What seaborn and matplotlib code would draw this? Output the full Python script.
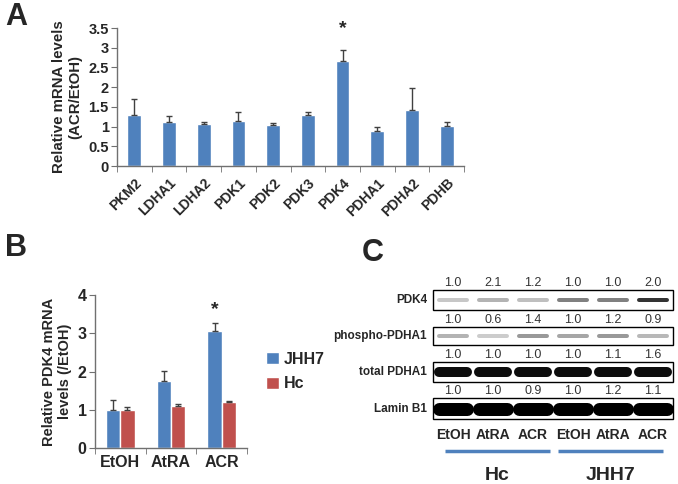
import numpy as np
import pandas as pd
import seaborn as sns
import matplotlib.pyplot as plt

# panel A data
genes = ["PKM2", "LDHA1", "LDHA2", "PDK1", "PDK2", "PDK3", "PDK4", "PDHA1", "PDHA2", "PDHB"]
ratio = [1.29, 1.11, 1.06, 1.15, 1.04, 1.29, 2.67, 0.89, 1.42, 1.01]
ratio_err = [0.41, 0.16, 0.06, 0.23, 0.06, 0.08, 0.28, 0.10, 0.56, 0.11]

# panel B data
treatments = ["EtOH", "AtRA", "ACR"]
jhh7 = [1.00, 1.76, 3.06]
jhh7_err = [0.25, 0.26, 0.21]
hc = [1.00, 1.10, 1.19]
hc_err = [0.06, 0.04, 0.05]

# panel C blot
lanes = ["EtOH", "AtRA", "ACR", "EtOH", "AtRA", "ACR"]
cells = ["Hc", "JHH7"]
blot_rows = ["PDK4", "phospho-PDHA1", "total PDHA1", "Lamin B1"]
quant = [
    ["1.0", "2.1", "1.2", "1.0", "1.0", "2.0"],
    ["1.0", "0.6", "1.4", "1.0", "1.2", "0.9"],
    ["1.0", "1.0", "1.0", "1.0", "1.1", "1.6"],
    ["1.0", "1.0", "0.9", "1.0", "1.2", "1.1"],
]
# estimated band darkness (0 light .. 1 black)
band_dark = [
    [0.22, 0.30, 0.25, 0.50, 0.50, 0.80],
    [0.30, 0.20, 0.40, 0.35, 0.40, 0.28],
    [0.95, 0.95, 0.95, 0.95, 0.95, 0.95],
    [1.00, 1.00, 1.00, 1.00, 1.00, 1.00],
]
band_px = [4, 4, 10, 13]

blue = "#4F81BD"
red = "#C0504D"
W, H = 678, 484

sns.set_style("white")
plt.rcParams["font.family"] = ["Liberation Sans", "DejaVu Sans"]

fig = plt.figure(figsize=(W / 100, H / 100), dpi=100)


def box(l, t, r, b):
    return [l / W, 1 - b / H, (r - l) / W, (b - t) / H]


def excel_axes(ax):
    sns.despine(ax=ax)
    for s in ["left", "bottom"]:
        ax.spines[s].set_color("#707070")
        ax.spines[s].set_linewidth(1.0)
    ax.tick_params(axis="y", direction="out", length=4, color="#707070", left=True, pad=2)
    for lab in ax.get_yticklabels():
        lab.set_fontweight("bold")


# ---- Panel A ----
axA = fig.add_axes(box(117, 28, 464, 166))
dfA = pd.DataFrame({"gene": genes, "ratio": ratio})
sns.barplot(data=dfA, x="gene", y="ratio", color=blue, width=0.4, saturation=1,
            errorbar=None, ax=axA)
axA.errorbar(np.arange(len(genes)), ratio, yerr=[np.zeros(len(genes)), ratio_err],
             fmt="none", ecolor="#404040", elinewidth=1, capsize=2.5, capthick=1)
axA.set_ylim(0, 3.5)
axA.set_yticks(np.arange(0, 3.51, 0.5))
axA.set_yticklabels(["0", "0.5", "1", "1.5", "2", "2.5", "3", "3.5"], fontsize=10.5)
axA.set_xlim(-0.5, len(genes) - 0.5)
axA.set_xticks(np.arange(len(genes)))
axA.set_xticklabels(genes, rotation=45, ha="right", rotation_mode="anchor",
                    fontsize=10, fontweight="bold")
axA.set_xticks(np.arange(-0.5, len(genes)), minor=True)
axA.tick_params(axis="x", which="major", length=0, pad=7)
axA.tick_params(axis="x", which="minor", length=4, color="#707070", bottom=True, direction="out")
axA.set_xlabel("")
axA.set_ylabel("Relative mRNA levels\n(ACR/EtOH)", fontsize=10.8, fontweight="bold", labelpad=4)
excel_axes(axA)
axA.text(6, 3.48, "*", ha="center", va="center", fontsize=14, fontweight="bold")

# ---- Panel B ----
axB = fig.add_axes(box(95, 295, 247, 448))
dfB = pd.DataFrame({
    "treatment": treatments * 2,
    "value": jhh7 + hc,
    "cell": ["JHH7"] * 3 + ["Hc"] * 3,
})
sns.barplot(data=dfB, x="treatment", y="value", hue="cell", palette=[blue, red],
            width=0.56, saturation=1, errorbar=None, ax=axB)
xs = np.arange(len(treatments))
axB.errorbar(xs - 0.14, jhh7, yerr=[np.zeros(3), jhh7_err], fmt="none",
             ecolor="#404040", elinewidth=1, capsize=2.5, capthick=1)
axB.errorbar(xs + 0.14, hc, yerr=[np.zeros(3), hc_err], fmt="none",
             ecolor="#404040", elinewidth=1, capsize=2.5, capthick=1)
axB.set_ylim(0, 4)
axB.set_yticks([0, 1, 2, 3, 4])
axB.set_yticklabels(["0", "1", "2", "3", "4"], fontsize=11.5)
axB.set_xlim(-0.5, 2.5)
axB.set_xticks(xs)
axB.set_xticklabels(treatments, fontsize=11.5, fontweight="bold")
axB.set_xticks(np.arange(-0.5, 3), minor=True)
axB.tick_params(axis="x", which="major", length=0, pad=5)
axB.tick_params(axis="x", which="minor", length=4, color="#707070", bottom=True, direction="out")
axB.set_xlabel("")
axB.set_ylabel("Relative PDK4 mRNA\nlevels (/EtOH)", fontsize=10.5, fontweight="bold", labelpad=4)
excel_axes(axB)
axB.text(2 - 0.14, 3.63, "*", ha="center", va="center", fontsize=14, fontweight="bold")
axB.legend(loc="center left", bbox_to_anchor=(1.03, 0.5), frameon=False,
           prop={"weight": "bold", "size": 11.5}, handlelength=0.8, handleheight=0.8,
           handletextpad=0.3, labelspacing=0.6)

# ---- Panel C (blot sketch, pixel coordinates) ----
axC = fig.add_axes([0, 0, 1, 1], zorder=-1)
axC.set_xlim(0, W)
axC.set_ylim(H, 0)
axC.axis("off")

lane_x = 453 + 40 * np.arange(6)
row_box = [(290, 310), (327, 345), (362, 382), (398, 419)]
quant_y = [283, 320, 355, 391]
for r, name in enumerate(blot_rows):
    top, bot = row_box[r]
    mid = (top + bot) / 2
    axC.add_patch(plt.Rectangle((433, top), 240, bot - top, facecolor="white",
                                edgecolor="black", linewidth=1))
    for i, x in enumerate(lane_x):
        d = band_dark[r][i]
        axC.plot([x - 14, x + 14], [mid, mid], color=str(1 - d),
                 linewidth=band_px[r] * 0.72, solid_capstyle="round")
        axC.text(x, quant_y[r], quant[r][i], ha="center", va="center",
                 fontsize=9, color="#333333")
    axC.text(427, mid, name, ha="right", va="center", fontsize=8.5, fontweight="bold")

for i, x in enumerate(lane_x):
    axC.text(x, 435, lanes[i], ha="center", va="center", fontsize=10, fontweight="bold")
axC.plot([445, 550], [451, 451], color=blue, linewidth=2.5, solid_capstyle="butt")
axC.plot([558, 663], [451, 451], color=blue, linewidth=2.5, solid_capstyle="butt")
axC.text(497, 475, cells[0], ha="center", va="center", fontsize=14, fontweight="bold")
axC.text(611, 475, cells[1], ha="center", va="center", fontsize=14, fontweight="bold")

# panel letters
fig.text(5 / W, 1 - 17 / H, "A", fontsize=22, fontweight="bold", va="center")
fig.text(5 / W, 1 - 248 / H, "B", fontsize=22, fontweight="bold", va="center")
fig.text(362 / W, 1 - 253 / H, "C", fontsize=22, fontweight="bold", va="center")

fig.savefig("out.png", dpi=100)
